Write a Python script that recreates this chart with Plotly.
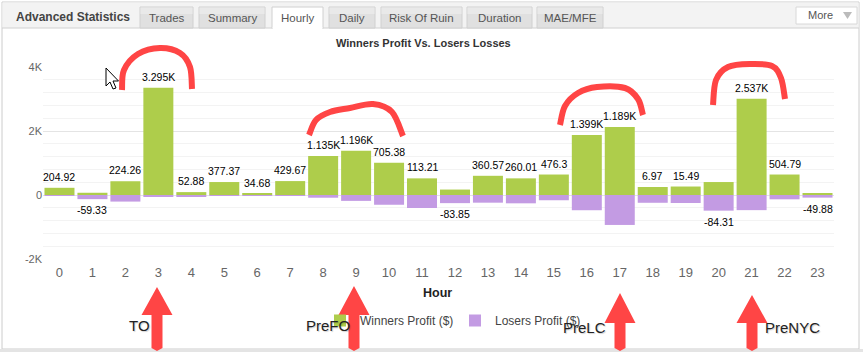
import plotly.graph_objects as go

# ---------------- data ----------------
hours = list(range(24))
winners = [225, 70, 430, 3350, 90, 405, 45, 435, 1220, 1380, 1010, 520,
           170, 600, 520, 640, 1875, 2125, 250, 265, 405, 3010, 640, 32]
losers = [-20, -129, -206, -55, -37, -28, -10, -5, -85, -184, -305, -407,
          -254, -240, -260, -164, -476, -936, -243, -250, -489, -473, -135, -82]
net_labels = ["204.92", "-59.33", "224.26", "3.295K", "52.88", "377.37", "34.68",
              "429.67", "1.135K", "1.196K", "705.38", "113.21", "-83.85", "360.57",
              "260.01", "476.3", "1.399K", "1.189K", "6.97", "15.49", "-84.31",
              "2.537K", "504.79", "-49.88"]
y_tickvals = [-2000, 0, 2000, 4000]
y_ticktext = ["-2K", "0", "2K", "4K"]
tabs = ["Trades", "Summary", "Hourly", "Daily", "Risk Of Ruin", "Duration", "MAE/MFE"]
session_hours = [3, 9, 17, 21]
session_names = ["TO", "PreFO", "PreLC", "PreNYC"]

# ---------------- geometry helpers ----------------
W, H = 863, 352
PL, PR, PT, PB = 43, 834, 67, 259


def px(x):
    return (x - PL) / (PR - PL)


def py(y):
    return (PB - y) / (PB - PT)


def path(points, close=True):
    s = "M " + " L ".join(f"{px(x):.5f},{py(y):.5f}" for x, y in points)
    return s + (" Z" if close else "")


def curve(points):
    # smooth path via Catmull-Rom -> cubic bezier
    pts = points
    s = f"M {px(pts[0][0]):.5f},{py(pts[0][1]):.5f}"
    for i in range(len(pts) - 1):
        p0 = pts[i - 1] if i > 0 else pts[i]
        p1 = pts[i]
        p2 = pts[i + 1]
        p3 = pts[i + 2] if i + 2 < len(pts) else pts[i + 1]
        c1 = (p1[0] + (p2[0] - p0[0]) / 6, p1[1] + (p2[1] - p0[1]) / 6)
        c2 = (p2[0] - (p3[0] - p1[0]) / 6, p2[1] - (p3[1] - p1[1]) / 6)
        s += (f" C {px(c1[0]):.5f},{py(c1[1]):.5f} {px(c2[0]):.5f},{py(c2[1]):.5f}"
              f" {px(p2[0]):.5f},{py(p2[1]):.5f}")
    return s


GREEN = "#aecd4b"
PURPLE = "#c39be3"
RED = "#ff4545"

fig = go.Figure()
fig.add_trace(go.Bar(x=hours, y=winners, name="Winners Profit ($)",
                     marker=dict(color=GREEN, line=dict(width=0))))
fig.add_trace(go.Bar(x=hours, y=losers, name="Losers Profit ($)",
                     marker=dict(color=PURPLE, line=dict(width=0))))

shapes = []
annotations = []

# ---------------- panel / header ----------------
shapes.append(dict(type="rect", xref="paper", yref="paper", x0=px(2), x1=px(859),
                   y0=py(349), y1=py(2), line=dict(color="#cccccc", width=1),
                   fillcolor="rgba(0,0,0,0)", layer="below"))
shapes.append(dict(type="rect", xref="paper", yref="paper", x0=px(2.5), x1=px(858.5),
                   y0=py(28), y1=py(2.5), line=dict(width=0),
                   fillcolor="#f3f3f3", layer="below"))
shapes.append(dict(type="line", xref="paper", yref="paper", x0=px(2), x1=px(859),
                   y0=py(28), y1=py(28), line=dict(color="#d0d0d0", width=1)))
shapes.append(dict(type="rect", xref="paper", yref="paper", x0=px(0), x1=px(863),
                   y0=py(352), y1=py(349), line=dict(width=0),
                   fillcolor="#e4e4e4"))
annotations.append(dict(text="<b>Advanced Statistics</b>", xref="paper", yref="paper",
                        x=px(14), y=py(17), xanchor="left", yanchor="middle",
                        showarrow=False,
                        font=dict(family="Liberation Sans, Arial", size=12, color="#444444")))

tab_x = [(140, 193), (199, 265), (272, 323), (329, 375), (381, 462), (467, 532), (537, 603)]
for name, (a, b) in zip(tabs, tab_x):
    active = name == "Hourly"
    shapes.append(dict(type="rect", xref="paper", yref="paper", x0=px(a), x1=px(b),
                       y0=py(28.5 if active else 28), y1=py(7),
                       line=dict(color="#d0d0d0", width=1),
                       fillcolor="#ffffff" if active else "#e0e0e0"))
    if not active:
        shapes.append(dict(type="rect", xref="paper", yref="paper", x0=px(a + 0.5),
                           x1=px(b - 0.5), y0=py(14), y1=py(7.5), line=dict(width=0),
                           fillcolor="#e9e9e9"))
    else:
        shapes.append(dict(type="line", xref="paper", yref="paper", x0=px(a + 0.5),
                           x1=px(b - 0.5), y0=py(28.5), y1=py(28.5),
                           line=dict(color="#ffffff", width=2)))
    annotations.append(dict(text=name, xref="paper", yref="paper", x=px((a + b) / 2),
                            y=py(18), xanchor="center", yanchor="middle", showarrow=False,
                            font=dict(family="Liberation Sans, Arial", size=11.5,
                                      color="#555555")))

shapes.append(dict(type="rect", xref="paper", yref="paper", x0=px(796), x1=px(857),
                   y0=py(24), y1=py(7), line=dict(color="#d8d8d8", width=1),
                   fillcolor="#ffffff"))
annotations.append(dict(text="More", xref="paper", yref="paper", x=px(820), y=py(15.5),
                        xanchor="center", yanchor="middle", showarrow=False,
                        font=dict(family="Liberation Sans, Arial", size=11, color="#555555")))
shapes.append(dict(type="path", xref="paper", yref="paper",
                   path=path([(843, 12), (852, 12), (847.5, 19)]),
                   line=dict(width=0), fillcolor="#bbbbbb"))

# ---------------- chart title / axis title ----------------
annotations.append(dict(text="<b>Winners Profit Vs. Losers Losses</b>", xref="paper",
                        yref="paper", x=px(423), y=py(43), xanchor="center",
                        yanchor="middle", showarrow=False,
                        font=dict(family="Liberation Sans, Arial", size=11, color="#333333")))
annotations.append(dict(text="<b>Hour</b>", xref="paper", yref="paper", x=px(437),
                        y=py(293), xanchor="center", yanchor="middle", showarrow=False,
                        font=dict(family="Liberation Sans, Arial", size=12.5, color="#222222")))

# ---------------- data labels ----------------
for h, w, l, lab in zip(hours, winners, losers, net_labels):
    neg = lab.startswith("-")
    annotations.append(dict(text=lab, x=h, y=l if neg else w, xref="x", yref="y",
                            yshift=-11 if neg else 11, showarrow=False,
                            xanchor="center", yanchor="middle",
                            font=dict(family="Liberation Sans, Arial", size=10.5,
                                      color="#000000")))

# ---------------- hand-drawn red arcs ----------------
arcs = [
    [(122, 90), (124, 70), (138, 54), (160, 48), (180, 53), (190, 67), (192, 89)],
    [(309, 135), (316, 120), (330, 112), (350, 108), (373, 104), (392, 112), (403, 136)],
    [(560, 125), (565, 106), (578, 93), (597, 87), (625, 88), (638, 99), (643, 115)],
    [(713, 105), (716, 80), (728, 67), (750, 64), (772, 66), (781, 78), (785, 99)],
]
for pts in arcs:
    shapes.append(dict(type="path", xref="paper", yref="paper", path=curve(pts),
                       line=dict(color=RED, width=6), fillcolor="rgba(0,0,0,0)"))

# ---------------- red arrows ----------------
arrows = [(157, 287, 315), (354, 286, 315), (620, 293, 323), (752, 295, 323)]
for tx, ty, hb in arrows:
    pts = [(tx, ty), (tx + 15.5, hb), (tx + 5.5, hb), (tx + 5.5, 348), (tx, 351),
           (tx - 5.5, 348), (tx - 5.5, hb), (tx - 15.5, hb)]
    shapes.append(dict(type="path", xref="paper", yref="paper", path=path(pts),
                       line=dict(width=0), fillcolor=RED))

text_pos = [(139, 325), (328, 325), (584, 327), (792, 327)]
for name, (tx, ty) in zip(session_names, text_pos):
    annotations.append(dict(text=name, xref="paper", yref="paper", x=px(tx), y=py(ty),
                            xanchor="center", yanchor="middle", showarrow=False,
                            font=dict(family="Liberation Sans, Arial", size=15,
                                      color="#222222",
                                      shadow="1px 1px 1px rgba(0,0,0,0.18)")))

# ---------------- mouse cursor ----------------
cur = [(106, 68), (106, 86), (110, 82), (113, 89), (116, 88), (113, 81), (118.5, 81)]
shapes.append(dict(type="path", xref="paper", yref="paper", path=path(cur),
                   line=dict(color="#000000", width=1), fillcolor="#ffffff"))

fig.update_layout(
    width=W, height=H,
    margin=dict(l=PL, r=W - PR, t=PT, b=H - PB),
    paper_bgcolor="#ffffff", plot_bgcolor="#ffffff",
    barmode="relative", bargap=0.09,
    showlegend=True,
    legend=dict(orientation="h", x=px(320), y=py(306), xanchor="left", yanchor="top",
                font=dict(family="Liberation Sans, Arial", size=12, color="#444444"),
                bgcolor="rgba(0,0,0,0)", itemclick=False, traceorder="normal",
                entrywidth=90, entrywidthmode="pixels"),
    hovermode=False,
    xaxis=dict(range=[-0.5, 23.5], tickmode="array", tickvals=hours,
               ticktext=[str(h) for h in hours], showgrid=False, zeroline=False,
               showline=False, ticks="", ticklabelstandoff=4,
               tickfont=dict(family="Liberation Sans, Arial", size=13, color="#666666")),
    yaxis=dict(range=[-2000, 4000], tickmode="array", tickvals=y_tickvals,
               ticktext=y_ticktext, showgrid=True, gridcolor="#e4e4e4", gridwidth=1,
               zeroline=False, showline=False, ticks="",
               minor=dict(dtick=400, tick0=0, showgrid=True, gridcolor="#f3f3f3"),
               tickfont=dict(family="Liberation Sans, Arial", size=11, color="#666666")),
    shapes=shapes,
    annotations=annotations,
)

fig.write_html("out.html")
